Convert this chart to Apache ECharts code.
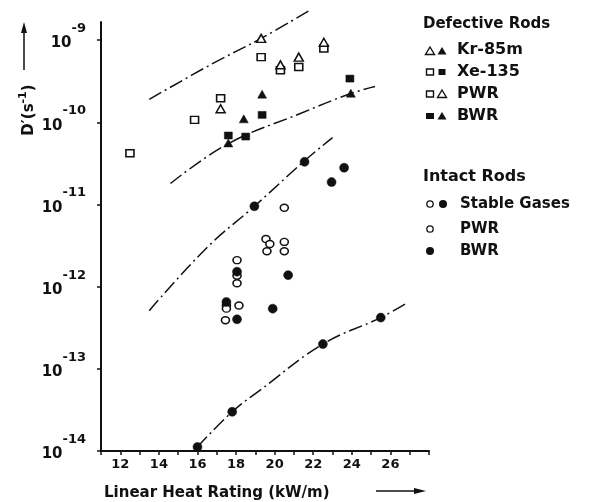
<!DOCTYPE html>
<html>
<head>
<meta charset="utf-8">
<script src="https://cdn.jsdelivr.net/npm/echarts@6/dist/echarts.min.js"></script>
<style>html,body{margin:0;padding:0;background:#fff;}#c{width:591px;height:502px;}</style>
</head>
<body>
<div id="c"></div>
<script>
// ---- data (x: linear heat rating kW/m, y: D' s^-1) ----
const defKrPWR = [[19.3,1.05e-9],[20.3,5.0e-10],[21.25,6.2e-10],[22.55,9.4e-10],[17.2,1.46e-10]];
const defXePWR = [[19.3,6.2e-10],[20.3,4.3e-10],[21.25,4.7e-10],[22.55,7.9e-10],[17.2,1.96e-10],[15.85,1.07e-10],[12.5,4.2e-11]];
const defKrBWR = [[19.35,2.2e-10],[18.4,1.1e-10],[17.6,5.6e-11],[23.95,2.26e-10]];
const defXeBWR = [[19.35,1.23e-10],[17.6,6.9e-11],[18.5,6.7e-11],[23.9,3.4e-10]];
const intPWR = [[20.5,9.1e-12],[19.55,3.8e-12],[19.75,3.3e-12],[19.6,2.7e-12],[20.5,3.5e-12],[20.5,2.7e-12],[18.05,2.1e-12],[18.05,1.36e-12],[18.05,1.1e-12],[17.5,5.9e-13],[17.5,5.4e-13],[18.15,5.9e-13],[17.45,3.9e-13]];
const intBWR = [[21.55,3.3e-11],[23.6,2.8e-11],[22.95,1.87e-11],[18.95,9.5e-12],[18.05,1.52e-12],[20.7,1.38e-12],[17.5,6.5e-13],[18.05,4.0e-13],[19.9,5.4e-13],[25.5,4.2e-13],[22.5,2.0e-13],[17.8,3.0e-14],[16.0,1.12e-14]];
const curve1 = [[13.5,1.9e-10],[16.8,5.2e-10],[19.3,1.05e-9],[21.75,2.25e-9]];
const curve2 = [[14.6,1.8e-11],[17.6,5.5e-11],[21.3,1.27e-10],[23.9,2.22e-10],[25.2,2.72e-10]];
const curve3 = [[13.5,5.1e-13],[16.5,3.0e-12],[18.95,9.5e-12],[21.55,3.4e-11],[23.0,6.5e-11]];
const curve4 = [[16.0,1.12e-14],[17.8,3.0e-14],[19.25,5.5e-14],[22.5,2.0e-13],[25.5,4.2e-13],[26.85,6.3e-13]];
const xTickLabels = [12,14,16,18,20,22,24,26];
const yMin = 1e-14, yMax = 1.66e-9;

const FF = '"DejaVu Sans", sans-serif';
const chart = echarts.init(document.getElementById('c'), null, {renderer:'canvas'});
const dashDot = [14,4,2,4];
function curve(d){return {type:'line',data:d,smooth:0.4,symbol:'none',clip:false,silent:true,
  lineStyle:{color:'#111',width:1.5,type:dashDot},z:1};}
function pts(d,sym,size,filled){return {type:'scatter',data:d,symbol:sym,symbolSize:size,clip:false,z:3,
  itemStyle:filled?{color:'#111',borderColor:'#111',borderWidth:0.5,opacity:1}:{color:'#fff',borderColor:'#111',borderWidth:1.5,opacity:1}};}

const L = 430, L2 = 442;
function tri(cx,cy,filled){return {type:'polygon',shape:{points:[[cx,cy-4],[cx+4.5,cy+3.5],[cx-4.5,cy+3.5]]},
  style:filled?{fill:'#111'}:{fill:'#fff',stroke:'#111',lineWidth:1.4}};}
function sq(cx,cy,filled,w){w=w||7;return {type:'rect',shape:{x:cx-w/2,y:cy-3,width:w,height:6},
  style:filled?{fill:'#111'}:{fill:'#fff',stroke:'#111',lineWidth:1.4}};}
function circ(cx,cy,filled){return {type:'circle',shape:{cx:cx,cy:cy,r:filled?4:3.2},
  style:filled?{fill:'#111'}:{fill:'#fff',stroke:'#111',lineWidth:1.3}};}
function txt(x,y,t,size){return {type:'text',x:x,y:y,style:{text:t,fill:'#111',font:'bold '+size+'px '+FF,textVerticalAlign:'middle',verticalAlign:'middle'}};}

chart.setOption({
  animation:false,
  backgroundColor:'#fff',
  grid:{left:101,right:162,top:22,bottom:51,containLabel:false},
  xAxis:{type:'value',min:11,max:28,interval:1,
    axisLine:{lineStyle:{color:'#111',width:2}},
    axisTick:{length:4,lineStyle:{color:'#111',width:1.5}},
    splitLine:{show:false},
    axisLabel:{margin:7,color:'#111',fontFamily:FF,fontWeight:'bold',fontSize:13,
      formatter:function(v){return xTickLabels.indexOf(v)>=0?String(v):'';}}},
  yAxis:{type:'log',logBase:10,min:yMin,max:yMax,
    axisLine:{show:true,lineStyle:{color:'#111',width:2}},
    axisTick:{show:true,length:4,lineStyle:{color:'#111',width:1.5}},
    splitLine:{show:false},
    axisLabel:{margin:15,color:'#111',showMaxLabel:false,hideOverlap:false,
      formatter:function(v){const e=Math.log10(v);if(Math.abs(e-Math.round(e))>0.01)return '';return '{b|10}{s|'+Math.round(e)+'}';},
      rich:{b:{fontFamily:FF,fontWeight:'bold',fontSize:15,color:'#111',verticalAlign:'bottom',padding:[0,0,7,0]},
            s:{fontFamily:FF,fontWeight:'bold',fontSize:13,color:'#111',verticalAlign:'top',padding:[0,0,23,0]}}}},
  series:[curve(curve1),curve(curve2),curve(curve3),curve(curve4),
    pts(defXePWR,'rect',[8,7],false),pts(defKrPWR,'triangle',[9,8],false),
    pts(defXeBWR,'rect',[8,7],true),pts(defKrBWR,'triangle',[9,8],true),
    pts(intPWR,'circle',[8,7],false),pts(intBWR,'circle',9,true)],
  graphic:[
    txt(423,24,'Defective Rods',15),
    tri(L,51,false),tri(L2,51,true),txt(457,50,'Kr-85m',16),
    sq(L,72,false),sq(L2,72,true),txt(457,72,'Xe-135',16),
    sq(L,94,false),tri(L2,94,false),txt(457,94,'PWR',16),
    sq(L,116,true,8),tri(L2,116,true),txt(457,116,'BWR',16),
    txt(423,177,'Intact Rods',16),
    circ(L,204,false),circ(L+13,204,true),txt(460,204,'Stable Gases',15),
    circ(L,229,false),txt(460,229,'PWR',15),
    circ(L,251,true),txt(460,251,'BWR',15),
    // y title
    {type:'text',x:27,y:110,rotation:Math.PI/2,
      style:{text:"{a|D′(s}{s|-1}{a|)}",align:'center',verticalAlign:'middle',
        rich:{a:{font:'bold 15px '+FF,fill:'#111',verticalAlign:'bottom'},s:{font:'bold 11px '+FF,fill:'#111',verticalAlign:'top',padding:[0,0,8,0]}}}},
    {type:'line',shape:{x1:24,y1:70,x2:24,y2:28},style:{stroke:'#111',lineWidth:1.5}},
    {type:'polygon',shape:{points:[[24,22],[27,33],[21,33]]},style:{fill:'#111'}},
    // x title
    txt(104,493,'Linear Heat Rating (kW/m)',15),
    {type:'line',shape:{x1:376,y1:491,x2:418,y2:491},style:{stroke:'#111',lineWidth:1.5}},
    {type:'polygon',shape:{points:[[426,491],[414,488],[414,494]]},style:{fill:'#111'}}
  ]
});
</script>
</body>
</html>
